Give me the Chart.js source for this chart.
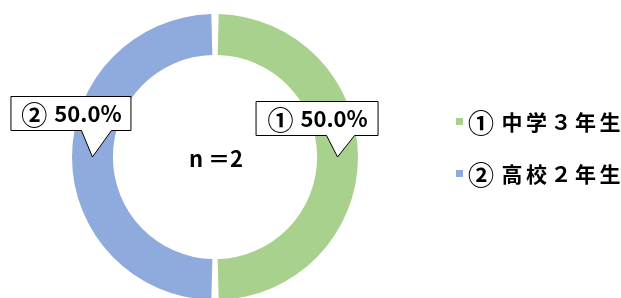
<!DOCTYPE html>
<html><head><meta charset="utf-8">
<script src="https://cdn.jsdelivr.net/npm/chart.js@4/dist/chart.umd.min.js"></script>
<style>
html,body{margin:0;padding:0;background:#fff;overflow:hidden;}
#wrap{width:621px;height:300px;position:relative;}
</style></head>
<body><div id="wrap"><canvas id="c" width="621" height="300"></canvas></div>
<script>
const categories = ['中学３年生', '高校２年生'];
const values = [50.0, 50.0];
const labelPrefixes = ['①', '②'];
const sampleText = 'n ＝2';
const colors = ['#a9d18e', '#8faadc'];

const FONT = '"Noto Sans CJK JP", "Noto Sans", sans-serif';

function drawRuns(ctx, runs, x, y, align) {
  let total = 0;
  runs.forEach(r => { ctx.font = r.font; r.w = ctx.measureText(r.t).width + (r.gap || 0); total += r.w; });
  let cx = align === 'center' ? x - total / 2 : x;
  ctx.textAlign = 'left';
  ctx.textBaseline = 'middle';
  runs.forEach(r => { ctx.font = r.font; ctx.fillText(r.t, cx, y + (r.dy || 0)); cx += r.w; });
}

const overlay = {
  id: 'overlay',
  afterDraw(chart) {
    const ctx = chart.ctx;
    const meta = chart.getDatasetMeta(0);
    const total = values.reduce((a, b) => a + b, 0);
    const ca = chart.chartArea;
    const cx = (ca.left + ca.right) / 2, cy = (ca.top + ca.bottom) / 2;
    ctx.save();
    ctx.fillStyle = '#000';
    drawRuns(ctx, [{t: sampleText, font: 'bold 22px ' + FONT}], cx + 1, cy + 2, 'center');
    ctx.restore();

    const boxCfg = [
      {dx: -82, w: 122, dy: -22, h: 34, b1: -11, b2: 17},
      {dx: -82, w: 120, dy: -27, h: 34, b1: -11, b2: 19}
    ];
    meta.data.forEach((arc, i) => {
      const p = arc.tooltipPosition();
      const tx = p.x, ty = p.y;
      const c = boxCfg[i];
      const left = tx + c.dx, bottom = ty + c.dy, top = bottom - c.h, right = left + c.w;
      ctx.save();
      ctx.beginPath();
      ctx.moveTo(left + 0.5, top + 0.5);
      ctx.lineTo(right + 0.5, top + 0.5);
      ctx.lineTo(right + 0.5, bottom + 0.5);
      ctx.lineTo(tx + c.b2, bottom + 0.5);
      ctx.lineTo(tx, ty);
      ctx.lineTo(tx + c.b1, bottom + 0.5);
      ctx.lineTo(left + 0.5, bottom + 0.5);
      ctx.closePath();
      ctx.fillStyle = '#fff';
      ctx.fill();
      ctx.strokeStyle = '#000';
      ctx.lineWidth = 1;
      ctx.stroke();
      const pct = (values[i] / total * 100).toFixed(1) + '%';
      ctx.fillStyle = '#000';
      drawRuns(ctx, [
        {t: labelPrefixes[i], font: 'bold 26px ' + FONT, gap: 7, dy: 1},
        {t: pct, font: 'bold 22px ' + FONT}
      ], (left + right) / 2 + 1, (top + bottom) / 2 + 1, 'center');
      ctx.restore();
    });

    const lx = 456, ly = [121, 173];
    categories.forEach((t, i) => {
      ctx.save();
      ctx.fillStyle = colors[i];
      ctx.fillRect(lx, ly[i] - 3, 7, 7);
      ctx.fillStyle = '#000';
      try { ctx.letterSpacing = '3.5px'; } catch (e) {}
      drawRuns(ctx, [
        {t: labelPrefixes[i], font: 'bold 26px ' + FONT, gap: 4, dy: 1},
        {t: t, font: 'bold 21px ' + FONT}
      ], lx + 12, ly[i] + 1, 'left');
      ctx.restore();
    });
  }
};

new Chart(document.getElementById('c'), {
  type: 'doughnut',
  data: {
    labels: categories.map((t, i) => labelPrefixes[i] + ' ' + t),
    datasets: [{
      data: values,
      backgroundColor: colors,
      borderWidth: 0,
      spacing: 4
    }]
  },
  options: {
    responsive: false,
    animation: false,
    cutout: '71%',
    layout: {padding: {top: 14, bottom: 0, left: 72, right: 263}},
    plugins: {legend: {display: false}, tooltip: {enabled: false}}
  },
  plugins: [overlay]
});
</script></body></html>
